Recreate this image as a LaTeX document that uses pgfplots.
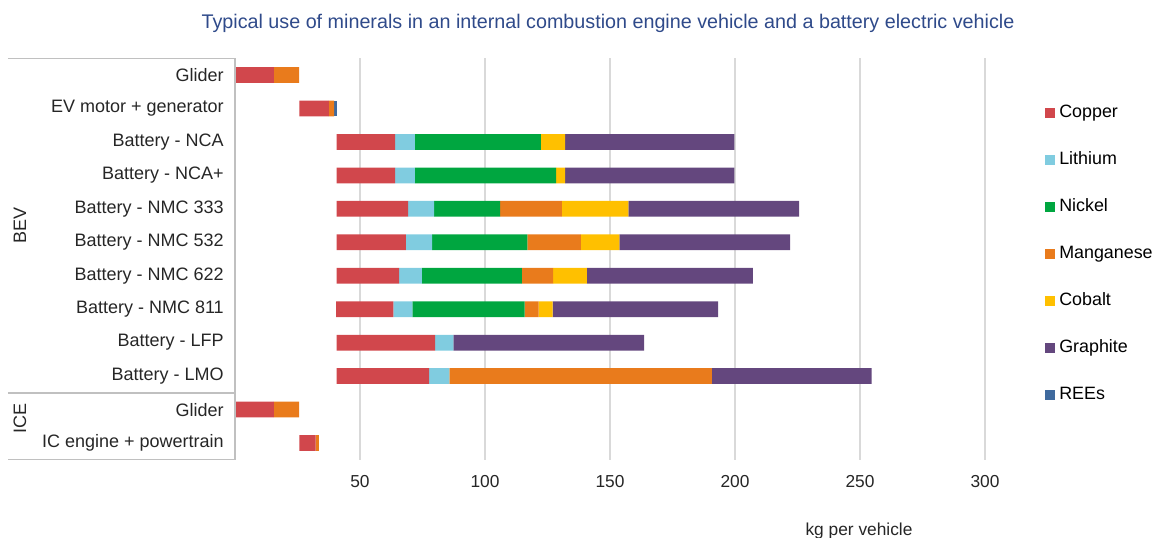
\documentclass[border=0pt]{standalone}
\usepackage{fontspec}
\setmainfont{Liberation Sans}
\usepackage{pgfplots}
\usepackage{pgfplotstable}
\pgfplotsset{compat=1.18}
\definecolor{cCu}{RGB}{209,71,76}
\definecolor{cLi}{RGB}{128,204,224}
\definecolor{cNi}{RGB}{0,166,64}
\definecolor{cMn}{RGB}{233,123,28}
\definecolor{cCo}{RGB}{255,192,0}
\definecolor{cGr}{RGB}{100,71,126}
\definecolor{cRE}{RGB}{63,106,158}
\definecolor{cTitle}{RGB}{47,74,138}
\definecolor{cLine}{RGB}{192,192,192}
\definecolor{cGrid}{RGB}{217,217,217}
\pgfplotstableread{
idx off cu li ni mn co gr ree
0 0 15.6 0 0 10.1 0 0 0
1 25.8 11.8 0 0 2.1 0 0 1.1
2 40.7 23.4 7.9 50.3 0 9.7 67.7 0
3 40.7 23.4 7.9 56.4 0 3.6 67.7 0
4 40.7 28.6 10.4 26.3 24.7 26.6 68.3 0
5 40.7 27.7 10.5 38.0 21.4 15.4 68.3 0
6 40.7 25.0 9.1 39.9 12.5 13.5 66.4 0
7 40.5 22.9 7.6 44.8 5.6 5.6 66.2 0
8 40.7 39.4 7.2 0 0 0 76.3 0
9 40.7 37.0 8.0 0 105.0 0 63.9 0
10 0 15.6 0 0 10.1 0 0 0
11 25.8 6.5 0 0 1.3 0 0 0
}\datatable
\begin{document}
\begin{tikzpicture}
\useasboundingbox (-176.25pt,43.725pt) rectangle (696pt,-359.775pt);
\begin{axis}[
  at={(0pt,0pt)}, anchor=north west,
  x=1.875pt, y=25.09pt, y dir=reverse,
  xmin=0, xmax=310, ymin=-0.5, ymax=11.5,
  xbar stacked, bar width=11.8pt,
  axis line style={draw=none},
  major tick length=0pt,
  xtick={50,100,...,300},
  xmajorgrids, grid style={draw=cGrid, line width=0.8pt},
  ytick={0,...,11},
  yticklabels={Glider, EV motor + generator, Battery - NCA, Battery - NCA+, Battery - NMC 333, Battery - NMC 532, Battery - NMC 622, Battery - NMC 811, Battery - LFP, Battery - LMO, Glider, IC engine + powertrain},
  tick label style={font=\fontsize{13}{15}\selectfont, text=black!85},
  yticklabel style={font=\fontsize{13.5}{15}\selectfont, inner sep=0pt, anchor=east, xshift=-8.25pt},
  /pgf/number format/assume math mode=true,
  xticklabel style={inner sep=0pt, anchor=north, yshift=-11.3pt},
  every axis plot post/.append style={draw=none, line width=0pt},
  legend image code/.code={\fill[#1] (0pt,-3.75pt) rectangle (7.5pt,3.75pt);},
  legend cell align=left,
  legend style={draw=none, fill=none, at={(1.0452,0.5124)}, anchor=west,
    inner sep=0pt, row sep=23pt, column sep=3pt,
    nodes={inner sep=0pt, text height=9.4pt, text depth=2.8pt},
    font=\fontsize{13.4}{15}\selectfont},
]
\addplot[fill=none, draw=none, opacity=0, forget plot] table[x=off, y=idx] {\datatable};
\addplot[fill=cCu, draw=none] table[x=cu, y=idx] {\datatable};
\addplot[fill=cLi, draw=none] table[x=li, y=idx] {\datatable};
\addplot[fill=cNi, draw=none] table[x=ni, y=idx] {\datatable};
\addplot[fill=cMn, draw=none] table[x=mn, y=idx] {\datatable};
\addplot[fill=cCo, draw=none] table[x=co, y=idx] {\datatable};
\addplot[fill=cGr, draw=none] table[x=gr, y=idx] {\datatable};
\addplot[fill=cRE, draw=none] table[x=ree, y=idx] {\datatable};
\legend{Copper, Lithium, Nickel, Manganese, Cobalt, Graphite, REEs}
\end{axis}
\draw[cLine, line width=0.9pt] (-170.25pt,0pt) -- (0pt,0pt) -- (0pt,-301.08pt) -- (-170.25pt,-301.08pt);
\draw[cLine, line width=0.9pt] (-170.25pt,-251pt) -- (0pt,-251pt);
\node[rotate=90, font=\fontsize{13.5}{15}\selectfont, text=black!85] at (-161.25pt,-125.4pt) {BEV};
\node[rotate=90, font=\fontsize{13.5}{15}\selectfont, text=black!85] at (-161.25pt,-270.5pt) {ICE};
\node[font=\fontsize{14.8}{17}\selectfont, text=cTitle] at (279.75pt,26pt) {Typical use of minerals in an internal combustion engine vehicle and a battery electric vehicle};
\node[font=\fontsize{13}{15}\selectfont, text=black!85] at (468pt,-354.5pt) {kg per vehicle};
\end{tikzpicture}
\end{document}
